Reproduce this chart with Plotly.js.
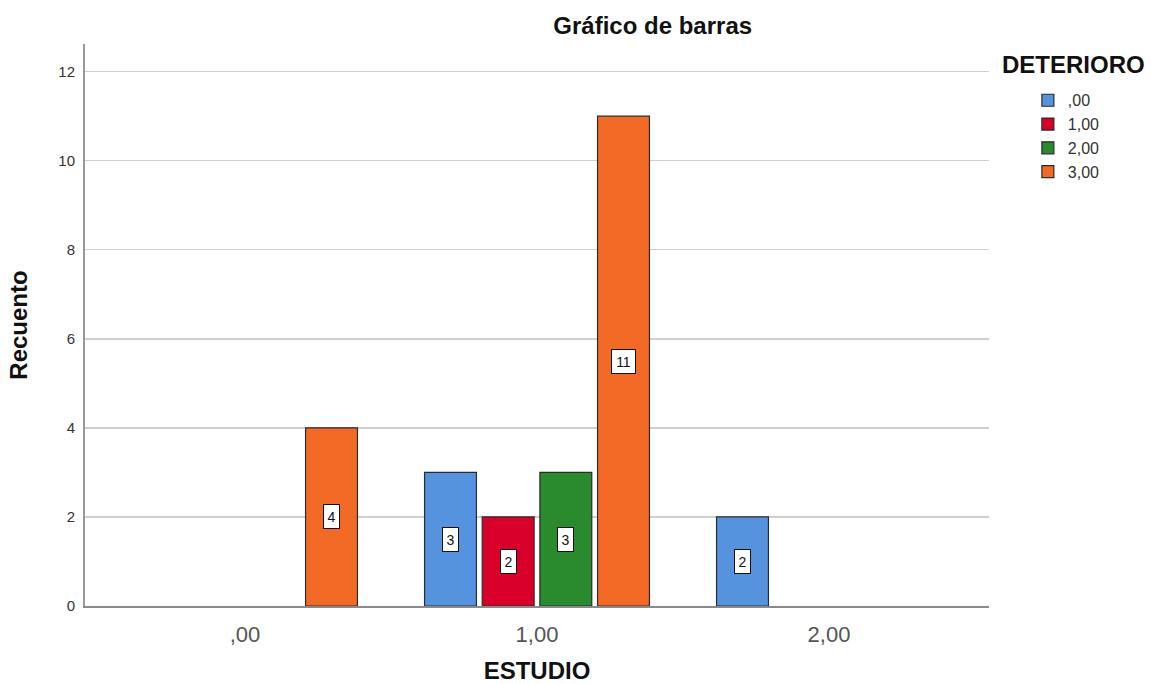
<!DOCTYPE html>
<html>
<head>
<meta charset="utf-8">
<script src="https://cdn.plot.ly/plotly-3.0.1.min.js"></script>
<style>html,body{margin:0;padding:0;background:#fff;}#chart{width:1151px;height:684px;}</style>
</head>
<body>
<div id="chart"></div>
<script>
// ESTUDIO categories (x axis)
const categories = [",00", "1,00", "2,00"];
// DETERIORO series names
const seriesNames = [",00", "1,00", "2,00", "3,00"];
// Counts (Recuento) per series, per ESTUDIO category; null = no bar
const deterioro_00 = [null, 3, 2];
const deterioro_100 = [null, 2, null];
const deterioro_200 = [null, 3, null];
const deterioro_300 = [4, 11, null];
const yTicks = [0, 2, 4, 6, 8, 10, 12];

const seriesValues = [deterioro_00, deterioro_100, deterioro_200, deterioro_300];
const colors = ["#5593DE", "#D8002A", "#2A8A2E", "#F26A25"];

const FONT = "Liberation Sans, Arial, sans-serif";
const bargap = 0.21;
const nSeries = seriesNames.length;
const slotW = (1 - bargap) / nSeries;

const traces = seriesNames.map((name, i) => ({
  type: "bar",
  name: name,
  x: categories,
  y: seriesValues[i],
  marker: {color: colors[i], line: {color: "#2b2b2b", width: 1.2}},
  hoverinfo: "skip"
}));

const annotations = [];
seriesValues.forEach((vals, i) => {
  vals.forEach((v, c) => {
    if (v === null || v === undefined) return;
    const txt = String(v);
    annotations.push({
      xref: "x", yref: "y",
      x: c + (i - (nSeries - 1) / 2) * slotW,
      y: v / 2,
      text: txt,
      showarrow: false,
      font: {family: FONT, size: 14, color: "#111"},
      bgcolor: "#ffffff",
      bordercolor: "#111",
      borderwidth: 1,
      borderpad: 1,
      width: 8 * txt.length + 5,
      height: 21
    });
  });
});

annotations.push({
  xref: "paper", yref: "paper",
  x: 1.012, y: 0.963,
  xanchor: "left", yanchor: "middle",
  text: "<b>DETERIORO</b>",
  showarrow: false,
  font: {family: FONT, size: 24, color: "#111"}
});

const layout = {
  width: 1151, height: 684,
  margin: {l: 85, r: 162, t: 44, b: 78},
  paper_bgcolor: "#ffffff",
  plot_bgcolor: "#ffffff",
  font: {family: FONT},
  title: {
    text: "<b>Gráfico de barras</b>",
    font: {family: FONT, size: 24, color: "#111"},
    xref: "paper", x: 0.628, xanchor: "center",
    yref: "container", y: 0.962, yanchor: "middle"
  },
  barmode: "group",
  bargap: bargap,
  bargroupgap: 0.1,
  showlegend: true,
  legend: {
    x: 1.043, xanchor: "left",
    y: 0.93, yanchor: "top",
    font: {family: FONT, size: 16, color: "#333"},
    bgcolor: "rgba(0,0,0,0)",
    traceorder: "normal",
    itemclick: false
  },
  xaxis: {
    type: "category",
    range: [-0.548, 2.548],
    showline: true, linecolor: "#8a8a8a", linewidth: 2,
    showgrid: false, zeroline: false,
    ticks: "",
    ticklabelstandoff: 8,
    tickfont: {family: FONT, size: 22, color: "#555"},
    title: {text: "<b>ESTUDIO</b>", font: {family: FONT, size: 24, color: "#111"}, standoff: 24},
    automargin: false,
    fixedrange: true
  },
  yaxis: {
    range: [0, 12.62],
    tickvals: yTicks,
    ticktext: yTicks.map(String),
    showline: true, linecolor: "#9a9a9a", linewidth: 2,
    showgrid: true, gridcolor: "#cfcfcf", gridwidth: 1.5,
    zeroline: false,
    ticks: "",
    ticklabelstandoff: 5,
    tickfont: {family: FONT, size: 15, color: "#333"},
    title: {text: "<b>Recuento</b>", font: {family: FONT, size: 24, color: "#111"}, standoff: 24},
    automargin: false,
    fixedrange: true
  },
  annotations: annotations
};

Plotly.newPlot("chart", traces, layout, {displayModeBar: false, staticPlot: true});
</script>
</body>
</html>
